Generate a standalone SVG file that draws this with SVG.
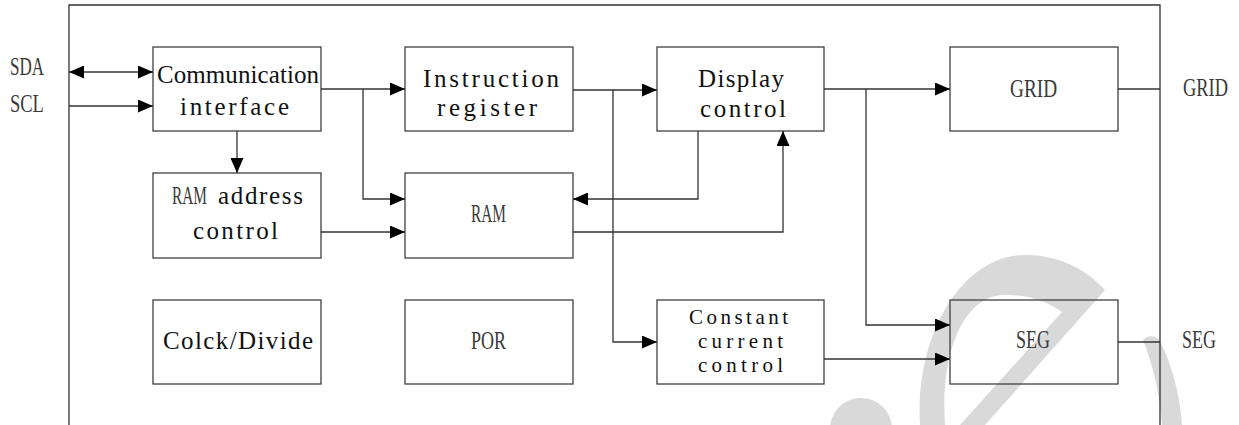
<svg xmlns="http://www.w3.org/2000/svg" width="1239" height="425" viewBox="0 0 1239 425">
<style>
.box{fill:none;stroke:#404040;stroke-width:1.3}
.ln{fill:none;stroke:#333;stroke-width:1.3}
.mono{font-family:"Liberation Serif","Times New Roman",serif;font-size:25px;fill:#111}
.sm{font-size:21px}
.ser{font-family:"Liberation Serif","Times New Roman",serif;font-size:25px;fill:#3a3a3a}
.wm{fill:#d9d9d9;fill-rule:evenodd}
</style>
<defs>
<marker id="ah" markerUnits="userSpaceOnUse" markerWidth="15" markerHeight="13" refX="15" refY="6.5" orient="auto-start-reverse">
<path d="M0,0 L15,6.5 L0,13 z" fill="#000"/>
</marker>
</defs>
<rect width="1239" height="425" fill="#fff"/>
<g id="watermark">
<path class="wm" d="M920,425 C915,330 965,255 1025,255 C1058,255 1085,268 1105,290 L985,425 Z M945,425 C940,350 965,296 1003,295 C1025,294 1045,300 1062,312 L960,425 Z"/>
<path class="wm" d="M1143,340 C1148,334 1157,336 1160,341 C1172,365 1180,395 1182,425 L1162,425 C1160,395 1153,365 1143,340 Z"/>
<circle class="wm" cx="861" cy="429" r="31"/>
</g>
<g id="frame">
<path class="ln" d="M69,425 V5 H1160 V425"/>
</g>
<g id="pins">
<text class="ser" transform="translate(10,75) scale(0.68,1)">SDA</text>
<text class="ser" transform="translate(10,112) scale(0.74,1)">SCL</text>
<text class="ser" transform="translate(1183,96) scale(0.736,1)">GRID</text>
<text class="ser" transform="translate(1182,348) scale(0.72,1)">SEG</text>
</g>
<g id="comm">
<rect class="box" x="153" y="47" width="168" height="84"/>
<text class="mono" x="157" y="83" textLength="162" lengthAdjust="spacing">Communication</text>
<text class="mono" x="180" y="115" textLength="109" lengthAdjust="spacing">interface</text>
</g>
<g id="instr">
<rect class="box" x="405" y="47" width="168" height="84"/>
<text class="mono" x="423" y="87" textLength="136" lengthAdjust="spacing">Instruction</text>
<text class="mono" x="437" y="116" textLength="100" lengthAdjust="spacing">register</text>
</g>
<g id="display">
<rect class="box" x="657" y="47" width="167" height="84"/>
<text class="mono" x="698" y="87" textLength="86" lengthAdjust="spacing">Display</text>
<text class="mono" x="700" y="117" textLength="86" lengthAdjust="spacing">control</text>
</g>
<g id="grid">
<rect class="box" x="950" y="47" width="168" height="84"/>
<text class="ser" transform="translate(1010,97) scale(0.77,1)">GRID</text>
</g>
<g id="ramaddr">
<rect class="box" x="153" y="173" width="168" height="85"/>
<text class="ser" transform="translate(172,204) scale(0.614,1)">RAM</text>
<text class="mono" x="218" y="204" textLength="85" lengthAdjust="spacing">address</text>
<text class="mono" x="193" y="239" textLength="85" lengthAdjust="spacing">control</text>
</g>
<g id="ram">
<rect class="box" x="405" y="173" width="168" height="85"/>
<text class="ser" transform="translate(471,222) scale(0.614,1)">RAM</text>
</g>
<g id="clock">
<rect class="box" x="153" y="300" width="168" height="84"/>
<text class="mono" x="163" y="349" textLength="150" lengthAdjust="spacing">Colck/Divide</text>
</g>
<g id="por">
<rect class="box" x="405" y="300" width="168" height="84"/>
<text class="ser" transform="translate(471,349) scale(0.72,1)">POR</text>
</g>
<g id="constant">
<rect class="box" x="657" y="300" width="167" height="84"/>
<text class="mono sm" x="689" y="324" textLength="99" lengthAdjust="spacing">Constant</text>
<text class="mono sm" x="698" y="348" textLength="85" lengthAdjust="spacing">current</text>
<text class="mono sm" x="698" y="372" textLength="85" lengthAdjust="spacing">control</text>
</g>
<g id="seg">
<rect class="box" x="950" y="300" width="168" height="84"/>
<text class="ser" transform="translate(1016,348) scale(0.72,1)">SEG</text>
</g>
<g id="connectors">
<path class="ln" d="M69,72 H153" marker-start="url(#ah)" marker-end="url(#ah)"/>
<path class="ln" d="M69,106 H153" marker-end="url(#ah)"/>
<path class="ln" d="M321,89 H405" marker-end="url(#ah)"/>
<path class="ln" d="M363,89 V199 H405" marker-end="url(#ah)"/>
<path class="ln" d="M237,131 V173" marker-end="url(#ah)"/>
<path class="ln" d="M321,232 H405" marker-end="url(#ah)"/>
<path class="ln" d="M573,90 H657" marker-end="url(#ah)"/>
<path class="ln" d="M613,90 V342 H657" marker-end="url(#ah)"/>
<path class="ln" d="M698,131 V199 H573" marker-end="url(#ah)"/>
<path class="ln" d="M573,232 H783 V131" marker-end="url(#ah)"/>
<path class="ln" d="M824,89 H950" marker-end="url(#ah)"/>
<path class="ln" d="M866,89 V325 H950" marker-end="url(#ah)"/>
<path class="ln" d="M824,359 H950" marker-end="url(#ah)"/>
<path class="ln" d="M1118,89 H1160"/>
<path class="ln" d="M1118,342 H1160"/>
</g>
</svg>
